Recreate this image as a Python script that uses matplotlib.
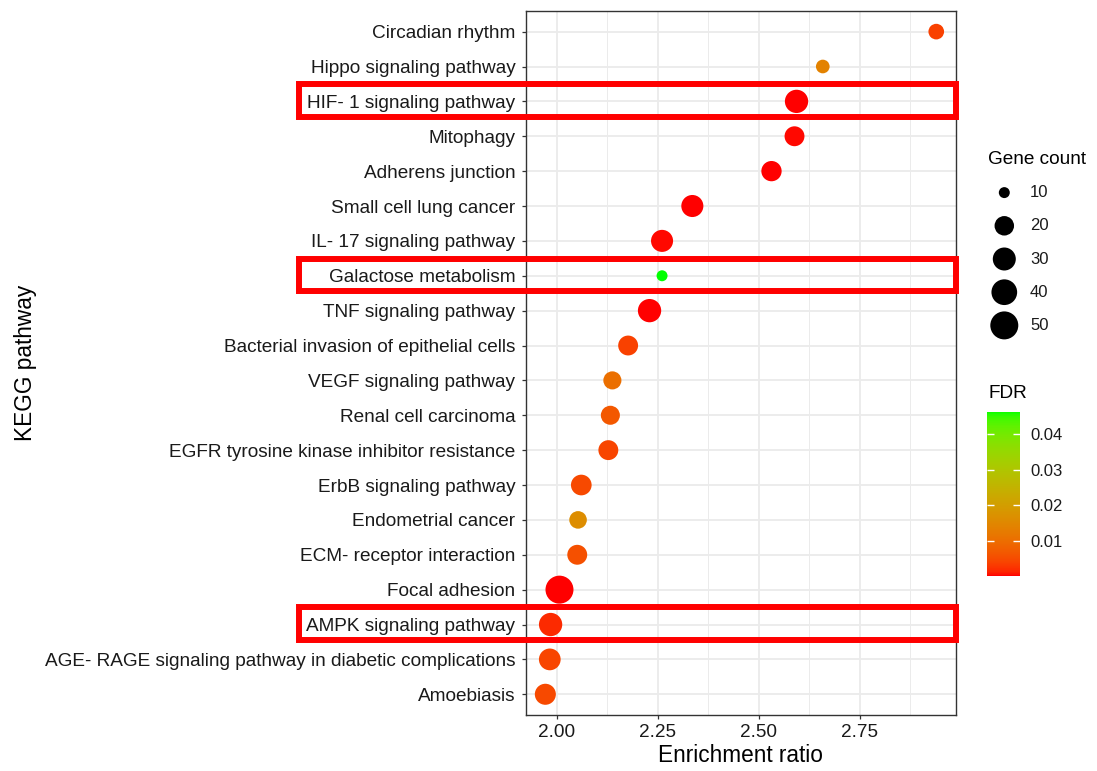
import numpy as np
import matplotlib
matplotlib.use("Agg")
import matplotlib.pyplot as plt
from matplotlib.colors import ListedColormap, Normalize
from matplotlib.cm import ScalarMappable
from matplotlib.patches import Rectangle
from matplotlib.transforms import blended_transform_factory

plt.rcParams["font.family"] = ["Liberation Sans", "DejaVu Sans"]

# KEGG pathways, listed top to bottom
pathways = [
    "Circadian rhythm",
    "Hippo signaling pathway",
    "HIF- 1 signaling pathway",
    "Mitophagy",
    "Adherens junction",
    "Small cell lung cancer",
    "IL- 17 signaling pathway",
    "Galactose metabolism",
    "TNF signaling pathway",
    "Bacterial invasion of epithelial cells",
    "VEGF signaling pathway",
    "Renal cell carcinoma",
    "EGFR tyrosine kinase inhibitor resistance",
    "ErbB signaling pathway",
    "Endometrial cancer",
    "ECM- receptor interaction",
    "Focal adhesion",
    "AMPK signaling pathway",
    "AGE- RAGE signaling pathway in diabetic complications",
    "Amoebiasis",
]
enrichment_ratio = [2.940, 2.659, 2.594, 2.589, 2.532, 2.336, 2.261, 2.261, 2.230, 2.177,
                    2.138, 2.133, 2.128, 2.061, 2.053, 2.051, 2.007, 1.985, 1.983, 1.972]
gene_count = [13, 11, 31, 21, 22, 27, 27, 10, 31, 21,
              17, 19, 21, 23, 16, 21, 50, 31, 26, 24]
fdr = [0.0039, 0.0140, 0.0003, 0.0004, 0.0003, 0.0002, 0.0004, 0.0463, 0.0002, 0.0039,
       0.0103, 0.0067, 0.0043, 0.0048, 0.0163, 0.0057, 0.0002, 0.0020, 0.0043, 0.0048]

highlighted = ["HIF- 1 signaling pathway", "Galactose metabolism", "AMPK signaling pathway"]
x_ticks = [2.00, 2.25, 2.50, 2.75]
size_breaks = [10, 20, 30, 40, 50]
fdr_ticks = [0.01, 0.02, 0.03, 0.04]

# ---- CIELAB colour ramp (red -> green) ----
_WHITE = np.array([0.95047, 1.0, 1.08883])
_M = np.array([[0.4124564, 0.3575761, 0.1804375],
               [0.2126729, 0.7151522, 0.0721750],
               [0.0193339, 0.1191920, 0.9503041]])


def srgb_to_lab(rgb):
    rgb = np.asarray(rgb, float)
    lin = np.where(rgb <= 0.04045, rgb / 12.92, ((rgb + 0.055) / 1.055) ** 2.4)
    xyz = lin @ _M.T / _WHITE
    d = 6 / 29
    f = np.where(xyz > d ** 3, np.cbrt(xyz), xyz / (3 * d * d) + 4 / 29)
    return np.stack([116 * f[..., 1] - 16,
                     500 * (f[..., 0] - f[..., 1]),
                     200 * (f[..., 1] - f[..., 2])], -1)


def lab_to_srgb(lab):
    fy = (lab[..., 0] + 16) / 116
    fx = fy + lab[..., 1] / 500
    fz = fy - lab[..., 2] / 200
    d = 6 / 29
    f = np.stack([fx, fy, fz], -1)
    xyz = np.where(f > d, f ** 3, 3 * d * d * (f - 4 / 29)) * _WHITE
    lin = np.clip(xyz @ np.linalg.inv(_M).T, 0, 1)
    rgb = np.where(lin <= 0.0031308, 12.92 * lin, 1.055 * lin ** (1 / 2.4) - 0.055)
    return np.clip(rgb, 0, 1)


lab_lo = srgb_to_lab([1.0, 0.0, 0.0])
lab_hi = srgb_to_lab([0.0, 1.0, 0.0])
t = np.linspace(0, 1, 256)[:, None]
cmap = ListedColormap(lab_to_srgb(lab_lo + t * (lab_hi - lab_lo)))
norm = Normalize(vmin=min(fdr), vmax=max(fdr))

# ---- point size scale (area scale over the count range) ----
cmin, cmax = min(gene_count), max(gene_count)


def point_diameter_pt(c):
    c = np.asarray(c, float)
    size = 1 + 5 * np.sqrt((c - cmin) / (cmax - cmin))
    return 2.45 * size + 5.45


W, H = 1097, 771
fig = plt.figure(figsize=(W / 100, H / 100), dpi=100)
px_l, px_r, px_t, px_b = 525.8, 955.8, 10.7, 715.2
ax = fig.add_axes([px_l / W, 1 - px_b / H, (px_r - px_l) / W, (px_b - px_t) / H])

n = len(pathways)
ypos = np.arange(n)[::-1]
ex = np.array(enrichment_ratio)

ax.scatter(ex, ypos, s=point_diameter_pt(gene_count) ** 2, c=fdr, cmap=cmap, norm=norm,
           edgecolors="none", zorder=3)

ax.set_xticks(x_ticks)
ax.set_xticklabels([f"{v:.2f}" for v in x_ticks])
ax.set_xticks([v + 0.125 for v in x_ticks], minor=True)
ax.set_yticks(ypos)
ax.set_yticklabels(pathways)

span = ex.max() - ex.min()
ax.set_xlim(ex.min() - 0.05 * span, ex.max() + 0.05 * span)
ax.set_ylim(-0.6, n - 0.4)

ax.set_axisbelow(True)
ax.grid(which="major", color="#EBEBEB", linewidth=1.3)
ax.grid(which="minor", axis="x", color="#EBEBEB", linewidth=0.7)
for sp in ax.spines.values():
    sp.set_color("#333333")
    sp.set_linewidth(1.0)
ax.tick_params(axis="both", which="major", length=3, width=0.9, color="#333333",
               labelsize=13.7, labelcolor="#1A1A1A")
ax.tick_params(axis="y", pad=4.5)
ax.tick_params(axis="x", pad=3.5)
ax.tick_params(which="minor", length=0)

ax.set_xlabel("Enrichment ratio", fontsize=16.3, color="black")
ax.xaxis.label.set_va("center")
ax.xaxis.set_label_coords(0.5, -(755 - px_b) / (px_b - px_t))
ax.set_ylabel("KEGG pathway", fontsize=16.3, color="black")
ax.yaxis.label.set_va("center")
ax.yaxis.set_label_coords((25 - px_l) / (px_r - px_l), 0.5)

# highlight boxes around selected pathways
btrans = blended_transform_factory(ax.transAxes, ax.transData)
box_left = (299 - px_l) / (px_r - px_l)
for name in highlighted:
    y = ypos[pathways.index(name)]
    ax.add_patch(Rectangle((box_left, y - 0.45), 1 - box_left, 0.94, transform=btrans,
                           fill=False, edgecolor="#FF0000", linewidth=4.3,
                           joinstyle="miter", clip_on=False, zorder=6))

# ---- size legend ----
fig.text(988 / W, 1 - 159.3 / H, "Gene count", fontsize=13.7, ha="left", va="center",
         color="black")
lg_l, lg_r, lg_t, lg_b = 985, 1065, 176, 342
lax = fig.add_axes([lg_l / W, 1 - lg_b / H, (lg_r - lg_l) / W, (lg_b - lg_t) / H])
lax.set_xlim(0, 1)
lax.set_ylim(0, len(size_breaks))
lax.axis("off")
ly = np.arange(len(size_breaks))[::-1] + 0.5
lax.scatter([(1004.3 - lg_l) / (lg_r - lg_l)] * len(size_breaks), ly,
            s=point_diameter_pt(size_breaks) ** 2, color="black", edgecolors="none",
            clip_on=False)
for yy, b in zip(ly, size_breaks):
    lax.text((1030 - lg_l) / (lg_r - lg_l), yy, str(b), fontsize=12, ha="left",
             va="center", color="#1A1A1A")

# ---- colour bar ----
fig.text(988 / W, 1 - 393.3 / H, "FDR", fontsize=13.7, ha="left", va="center", color="black")
cb_l, cb_r, cb_t, cb_b = 987.3, 1020.3, 411.7, 576.0
cax = fig.add_axes([cb_l / W, 1 - cb_b / H, (cb_r - cb_l) / W, (cb_b - cb_t) / H])
cbar = fig.colorbar(ScalarMappable(norm=norm, cmap=cmap), cax=cax)
cbar.outline.set_visible(False)
cbar.set_ticks(fdr_ticks)
cbar.set_ticklabels([f"{v:.2f}" for v in fdr_ticks])
cax.tick_params(direction="in", length=5, width=1, color="white", labelsize=12,
                labelcolor="#1A1A1A", pad=7, left=True, right=True)

fig.savefig("out.png", dpi=100, facecolor="white")
